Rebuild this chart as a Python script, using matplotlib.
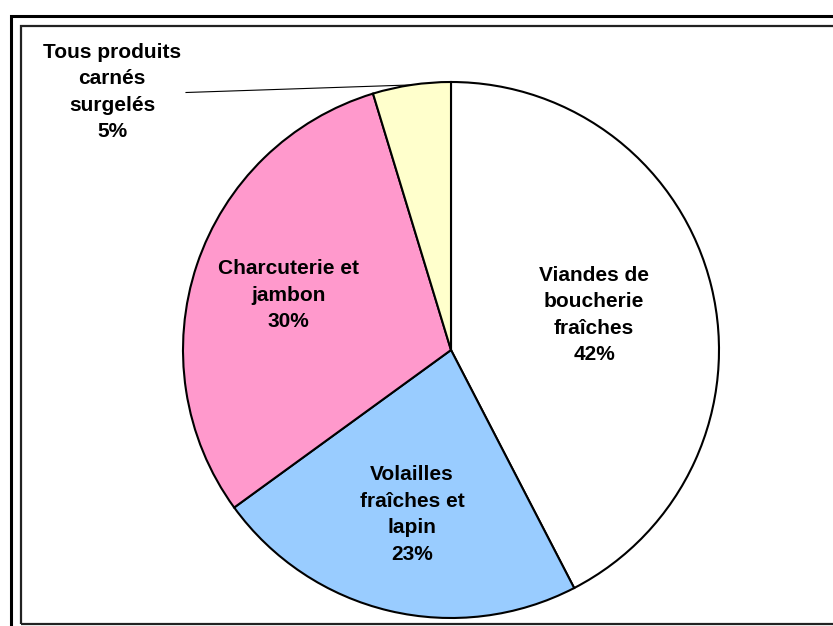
import numpy as np
import matplotlib.pyplot as plt
from matplotlib.patches import Rectangle

labels = ['Viandes de\nboucherie\nfraîches', 'Volailles\nfraîches et\nlapin',
          'Charcuterie et\njambon', 'Tous produits\ncarnés\nsurgelés']
values = [42.4, 22.6, 30.3, 4.7]
colors = ['#FFFFFF', '#99CCFF', '#FF99CC', '#FFFFCC']
label_dist = [0.55, 0.63, 0.64, None]

W, H = 833, 626
fig = plt.figure(figsize=(W / 100, H / 100), dpi=100)
ax = fig.add_axes([0, 0, 1, 1])

cx, cy, r = 451, H - 350, 268
wedges, _ = ax.pie(values, colors=colors, startangle=90, counterclock=False,
                   center=(cx, cy), radius=r, frame=True,
                   wedgeprops=dict(edgecolor='black', linewidth=1.5))
ax.set_xlim(0, W)
ax.set_ylim(0, H)
ax.set_aspect('equal')
ax.axis('off')

font = dict(family='Liberation Sans', weight='bold', fontsize=15,
            ha='center', va='center', linespacing=1.5)
total = sum(values)
for w, lab, v, d in zip(wedges, labels, values, label_dist):
    mid = np.deg2rad((w.theta1 + w.theta2) / 2)
    txt = f'{lab}\n{round(100 * v / total)}%'
    if d is not None:
        ax.text(cx + d * r * np.cos(mid), cy + d * r * np.sin(mid), txt, **font)
    else:
        ex, ey = cx + r * np.cos(mid), cy + r * np.sin(mid)
        ax.plot([186, ex], [H - 92.5, ey], color='black', lw=0.8)
        ax.text(112, H - 92, txt, **font)

# double frame
fig.patches.append(Rectangle((11, -20), 900, H - 15.5 + 20, transform=None,
                             fill=False, edgecolor='black', lw=2.2))
fig.patches.append(Rectangle((21, 2), 900, H - 26 - 2, transform=None,
                             fill=False, edgecolor='#222222', lw=1.6))

fig.savefig('out.png', dpi=100)
